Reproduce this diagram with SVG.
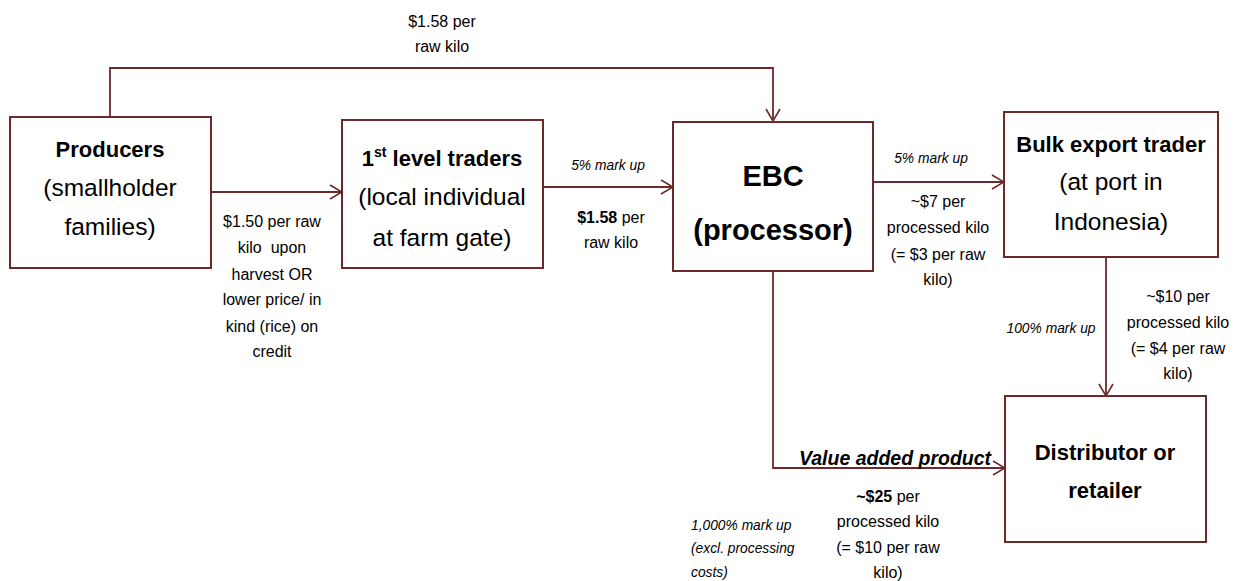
<svg xmlns="http://www.w3.org/2000/svg" width="1242" height="581" viewBox="0 0 1242 581">
<defs>
<marker id="arr" viewBox="0 0 14 16" refX="13" refY="8" markerWidth="14" markerHeight="16" markerUnits="userSpaceOnUse" orient="auto">
<path d="M1,1 L13,8 L1,15" fill="none" stroke="#6e2a2a" stroke-width="1.6"/>
</marker>
<style>
.box{fill:#fff;stroke:#6e2a2a;stroke-width:2}
.ln{fill:none;stroke:#6e2a2a;stroke-width:1.8}
text{font-family:"Liberation Sans",Arial,sans-serif;fill:#000;text-anchor:middle}
.b{font-weight:bold;font-size:22px}
.r{font-size:24.5px}
.e{font-weight:bold;font-size:29px}
.s{font-size:16px}
.i{font-style:italic;font-size:13.8px}
.st{text-anchor:start}
.vap{font-weight:bold;font-style:italic;font-size:19.5px}
</style>
</defs>
<g id="connectors">
<path class="ln" d="M110,117 V68 H773 V121" marker-end="url(#arr)"/>
<path class="ln" d="M211,192 H342" marker-end="url(#arr)"/>
<path class="ln" d="M543,187 H673" marker-end="url(#arr)"/>
<path class="ln" d="M873,182 H1004" marker-end="url(#arr)"/>
<path class="ln" d="M1106,257 V396" marker-end="url(#arr)"/>
<path class="ln" d="M773,271 V468 H1005" marker-end="url(#arr)"/>
</g>
<g id="producers">
<rect class="box" x="10" y="117" width="201" height="151"/>
<text class="b" x="110" y="157">Producers</text>
<text class="r" x="110" y="196">(smallholder</text>
<text class="r" x="110" y="235">families)</text>
</g>
<g id="traders">
<rect class="box" x="342" y="120" width="201" height="148"/>
<text class="b" x="442" y="166">1<tspan font-size="14" dy="-9">st</tspan><tspan dy="9"> level traders</tspan></text>
<text class="r" x="442" y="205">(local individual</text>
<text class="r" x="442" y="246">at farm gate)</text>
</g>
<g id="ebc">
<rect class="box" x="673" y="122" width="200" height="149"/>
<text class="e" x="773" y="186">EBC</text>
<text class="e" x="773" y="240">(processor)</text>
</g>
<g id="bulk">
<rect class="box" x="1004" y="112" width="214" height="145"/>
<text class="b" x="1111" y="152">Bulk export trader</text>
<text class="r" x="1111" y="190">(at port in</text>
<text class="r" x="1111" y="230">Indonesia)</text>
</g>
<g id="distributor">
<rect class="box" x="1005" y="396" width="201" height="146"/>
<text class="b" x="1105" y="460">Distributor or</text>
<text class="b" x="1105" y="498">retailer</text>
</g>
<g id="labels">
<text class="s" x="442" y="27">$1.58 per</text>
<text class="s" x="442" y="52">raw kilo</text>
<text class="s" x="272" y="227">$1.50 per raw</text>
<text class="s" x="272" y="253" xml:space="preserve">kilo  upon</text>
<text class="s" x="272" y="280">harvest OR</text>
<text class="s" x="272" y="305">lower price/ in</text>
<text class="s" x="272" y="332">kind (rice) on</text>
<text class="s" x="272" y="357">credit</text>
<text class="i" x="608" y="170">5% mark up</text>
<text class="s" x="611" y="223"><tspan font-weight="bold">$1.58</tspan> per</text>
<text class="s" x="611" y="248">raw kilo</text>
<text class="i" x="931" y="163">5% mark up</text>
<text class="s" x="938" y="207">~$7 per</text>
<text class="s" x="938" y="233">processed kilo</text>
<text class="s" x="938" y="260">(= $3 per raw</text>
<text class="s" x="938" y="285">kilo)</text>
<text class="i" x="1051" y="333">100% mark up</text>
<text class="s" x="1178" y="302">~$10 per</text>
<text class="s" x="1178" y="328">processed kilo</text>
<text class="s" x="1178" y="354">(= $4 per raw</text>
<text class="s" x="1178" y="379">kilo)</text>
<text class="vap" x="895" y="465">Value added product</text>
<text class="s" x="888" y="502"><tspan font-weight="bold">~$25</tspan> per</text>
<text class="s" x="888" y="527">processed kilo</text>
<text class="s" x="888" y="553">(= $10 per raw</text>
<text class="s" x="888" y="578">kilo)</text>
<text class="i st" x="691" y="530">1,000% mark up</text>
<text class="i st" x="691" y="553">(excl. processing</text>
<text class="i st" x="691" y="577">costs)</text>
</g>
</svg>
